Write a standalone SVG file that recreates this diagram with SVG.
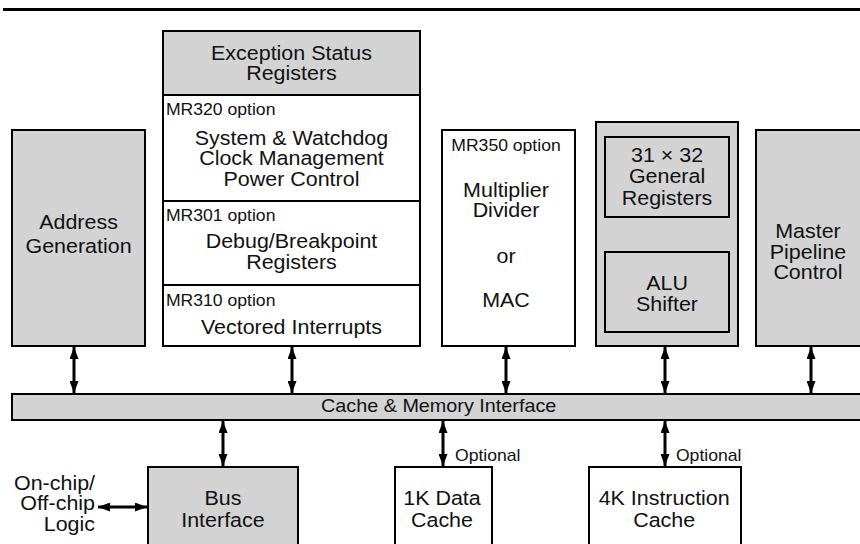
<svg xmlns="http://www.w3.org/2000/svg" width="860" height="544" viewBox="0 0 860 544">
<style>
.box{stroke:#000;stroke-width:2}
.g{fill:#d3d3d4}
.w{fill:#fff}
.t{font-family:"Liberation Sans",Arial,sans-serif;font-size:19.5px;fill:#111;text-anchor:middle;transform:scaleX(1.1)}
.s{font-family:"Liberation Sans",Arial,sans-serif;font-size:16px;fill:#111;transform:scaleX(1.1)}
.b{font-family:"Liberation Sans",Arial,sans-serif;font-size:18px;fill:#111;text-anchor:middle;transform:scaleX(1.1)}
.e{text-anchor:end}
.m{text-anchor:middle}
.c{stroke:#000;stroke-width:3;fill:none;marker-start:url(#ah);marker-end:url(#ah)}
</style>
<defs>
<marker id="ah" viewBox="0 0 12 9" refX="12" refY="4.5" markerWidth="12" markerHeight="9" markerUnits="userSpaceOnUse" orient="auto-start-reverse">
<path d="M0,0 L12,4.5 L0,9 z" fill="#000"/>
</marker>
</defs>
<rect x="3" y="8" width="857" height="3" fill="#000"/>

<g id="esr">
<rect class="box w" x="163" y="31" width="257" height="315"/>
<rect class="box g" x="163" y="31" width="257" height="64"/>
<text class="t" x="265" y="60">Exception Status</text>
<text class="t" x="265" y="80.5">Registers</text>
<text class="s" x="150.9" y="115">MR320 option</text>
<text class="t" x="265" y="145">System &amp; Watchdog</text>
<text class="t" x="265" y="165.5">Clock Management</text>
<text class="t" x="265" y="186">Power Control</text>
<line class="box" x1="163" y1="201" x2="420" y2="201"/>
<text class="s" x="150.9" y="221.5">MR301 option</text>
<text class="t" x="265" y="248.5">Debug/Breakpoint</text>
<text class="t" x="265" y="269.5">Registers</text>
<line class="box" x1="163" y1="285" x2="420" y2="285"/>
<text class="s" x="150.9" y="306.5">MR310 option</text>
<text class="t" x="265" y="334.5">Vectored Interrupts</text>
</g>

<g id="addr">
<rect class="box g" x="12" y="130" width="133" height="216"/>
<text class="t" x="71.4" y="229.5">Address</text>
<text class="t" x="71.4" y="253">Generation</text>
</g>

<g id="mul">
<rect class="box w" x="442" y="130" width="133" height="216"/>
<text class="s m" x="460" y="151">MR350 option</text>
<text class="t" x="460" y="197">Multiplier</text>
<text class="t" x="460" y="217.5">Divider</text>
<text class="t" x="460" y="263">or</text>
<text class="t" x="460" y="307">MAC</text>
</g>

<g id="alu">
<rect class="box g" x="596" y="122" width="142" height="224"/>
<rect class="box g" x="605" y="137" width="124" height="80"/>
<text class="t" x="606.4" y="162">31 × 32</text>
<text class="t" x="606.4" y="183.5">General</text>
<text class="t" x="606.4" y="205">Registers</text>
<rect class="box g" x="605" y="252" width="124" height="80"/>
<text class="t" x="606.4" y="290">ALU</text>
<text class="t" x="606.4" y="311.5">Shifter</text>
</g>

<g id="master">
<rect class="box g" x="756" y="130" width="110" height="216"/>
<text class="t" x="734.5" y="238.5">Master</text>
<text class="t" x="734.5" y="259">Pipeline</text>
<text class="t" x="734.5" y="279.5">Control</text>
</g>

<g id="bus">
<rect class="box g" x="12" y="394" width="854" height="26"/>
<text class="b" x="398.8" y="412.5">Cache &amp; Memory Interface</text>
</g>

<g id="busif">
<rect class="box g" x="148" y="467" width="150" height="84"/>
<text class="t" x="202.7" y="505">Bus</text>
<text class="t" x="202.7" y="527">Interface</text>
</g>

<g id="dcache">
<rect class="box w" x="395" y="467" width="97" height="84"/>
<text class="t" x="401.8" y="505">1K Data</text>
<text class="t" x="401.8" y="527">Cache</text>
</g>

<g id="icache">
<rect class="box w" x="589" y="467" width="152" height="84"/>
<text class="t" x="603.8" y="505">4K Instruction</text>
<text class="t" x="603.8" y="527">Cache</text>
</g>

<g id="ext">
<text class="t e" x="86.4" y="490">On-chip/</text>
<text class="t e" x="86.4" y="510.5">Off-chip</text>
<text class="t e" x="86.4" y="531">Logic</text>
</g>

<g id="connectors">
<line class="c" x1="74" y1="347" x2="74" y2="393"/>
<line class="c" x1="292" y1="347" x2="292" y2="393"/>
<line class="c" x1="506" y1="347" x2="506" y2="393"/>
<line class="c" x1="665" y1="347" x2="665" y2="393"/>
<line class="c" x1="811" y1="347" x2="811" y2="393"/>
<line class="c" x1="223" y1="421" x2="223" y2="466"/>
<line class="c" x1="443" y1="421" x2="443" y2="466"/>
<line class="c" x1="665" y1="421" x2="665" y2="466"/>
<line class="c" x1="98" y1="507" x2="147" y2="507"/>
<text class="s" x="413.6" y="461">Optional</text>
<text class="s" x="614.5" y="461">Optional</text>
</g>
</svg>
